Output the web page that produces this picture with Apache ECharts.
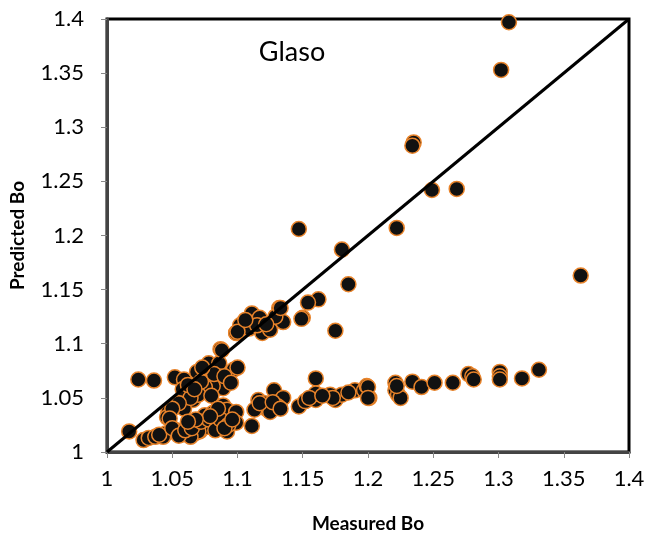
<!DOCTYPE html>
<html>
<head>
<meta charset="utf-8">
<script src="https://cdn.jsdelivr.net/npm/echarts@6/dist/echarts.min.js"></script>
<style>
html, body { margin: 0; padding: 0; background: #fff; }
#chart { width: 650px; height: 542px; }
</style>
</head>
<body>
<div id="chart"></div>
<script>
// measured vs predicted Bo
var measured = [
  1.308, 1.302, 1.235, 1.234, 1.249, 1.268, 1.363, 1.222, 1.147, 1.180,
  1.185, 1.162, 1.154, 1.150, 1.175, 1.149,
  1.017, 1.024, 1.036, 1.052, 1.059, 1.058, 1.069, 1.078, 1.087, 1.086,
  1.097, 1.100, 1.085, 1.078, 1.071, 1.066, 1.059, 1.047, 1.046, 1.089,
  1.081, 1.075, 1.070, 1.064, 1.099, 1.102, 1.111, 1.117, 1.119, 1.125,
  1.132, 1.135, 1.129, 1.109, 1.099, 1.088, 1.133, 1.100,
  1.062, 1.072, 1.082, 1.090, 1.095, 1.067, 1.080, 1.055, 1.050, 1.073,
  1.115, 1.106, 1.122,
  1.028, 1.032, 1.037, 1.045, 1.052, 1.057, 1.062, 1.067, 1.071, 1.075,
  1.081, 1.089, 1.092, 1.099, 1.099, 1.092, 1.084, 1.080, 1.076, 1.070,
  1.064, 1.048, 1.053, 1.043, 1.111, 1.116, 1.121, 1.128, 1.135, 1.131,
  1.123, 1.113, 1.125, 1.160, 1.147, 1.152, 1.160, 1.160, 1.171, 1.175,
  1.180, 1.190, 1.197, 1.199, 1.201, 1.173,
  1.040, 1.050, 1.055, 1.060, 1.065, 1.072, 1.078, 1.083, 1.087, 1.093,
  1.085, 1.079, 1.068, 1.062, 1.090, 1.096,
  1.117, 1.127, 1.133, 1.155, 1.165, 1.185,
  1.200, 1.200, 1.221, 1.221, 1.223, 1.225, 1.234, 1.241, 1.251, 1.265,
  1.277, 1.280, 1.281, 1.301, 1.301, 1.301, 1.318, 1.331, 1.222
];
var predicted = [
  1.397, 1.353, 1.286, 1.283, 1.242, 1.243, 1.163, 1.207, 1.206, 1.187,
  1.155, 1.141, 1.138, 1.124, 1.112, 1.123,
  1.019, 1.067, 1.066, 1.069, 1.067, 1.058, 1.074, 1.082, 1.095, 1.082,
  1.076, 1.078, 1.070, 1.061, 1.054, 1.048, 1.040, 1.037, 1.032, 1.059,
  1.061, 1.060, 1.053, 1.050, 1.110, 1.117, 1.128, 1.124, 1.110, 1.113,
  1.133, 1.120, 1.125, 1.114, 1.110, 1.094, 1.133, 1.111,
  1.062, 1.065, 1.072, 1.070, 1.064, 1.058, 1.052, 1.045, 1.040, 1.078,
  1.117, 1.122, 1.118,
  1.011, 1.013, 1.014, 1.017, 1.019, 1.016, 1.025, 1.017, 1.019, 1.034,
  1.036, 1.043, 1.039, 1.037, 1.027, 1.019, 1.023, 1.025, 1.023, 1.019,
  1.014, 1.031, 1.020, 1.014, 1.024, 1.048, 1.045, 1.057, 1.050, 1.042,
  1.039, 1.039, 1.037, 1.068, 1.042, 1.047, 1.048, 1.054, 1.053, 1.048,
  1.053, 1.057, 1.057, 1.061, 1.050, 1.050,
  1.016, 1.022, 1.015, 1.020, 1.022, 1.028, 1.030, 1.020, 1.030, 1.025,
  1.040, 1.033, 1.030, 1.028, 1.022, 1.030,
  1.045, 1.046, 1.040, 1.050, 1.052, 1.055,
  1.060, 1.050, 1.064, 1.057, 1.053, 1.050, 1.065, 1.060, 1.064, 1.064,
  1.072, 1.070, 1.067, 1.074, 1.070, 1.067, 1.068, 1.076, 1.061
];
var unitLine = [1, 1.4];

var points = [];
for (var i = 0; i < measured.length; i++) {
  points.push([measured[i], predicted[i]]);
}

var font = 'Lato';
var chart = echarts.init(document.getElementById('chart'));
chart.setOption({
  animation: false,
  grid: {
    left: 103, right: 21, top: 19, bottom: 90,
    show: true, borderColor: '#000', borderWidth: 3
  },
  title: {
    text: 'Glaso', left: 287, top: 34, textAlign: 'center',
    textStyle: { fontFamily: font, fontSize: 27, fontWeight: 'normal', color: '#000' }
  },
  xAxis: {
    type: 'value', min: 1, max: 1.4, interval: 0.05,
    name: 'Measured Bo', nameLocation: 'middle', nameGap: 62,
    nameTextStyle: { fontFamily: font, fontSize: 19, fontWeight: 'bold', color: '#000' },
    axisLine: { lineStyle: { color: '#444', width: 3 } },
    axisTick: { show: true, length: 6, lineStyle: { color: '#888' } },
    splitLine: { show: false },
    axisLabel: { margin: 16, fontFamily: font, fontSize: 22, color: '#000',
      formatter: function (v) { return +v.toFixed(2) + ''; } }
  },
  yAxis: {
    type: 'value', min: 1, max: 1.4, interval: 0.05,
    name: 'Predicted Bo', nameLocation: 'middle', nameGap: 80,
    nameTextStyle: { fontFamily: font, fontSize: 19, fontWeight: 'bold', color: '#000' },
    axisLine: { lineStyle: { color: '#444', width: 3 } },
    axisTick: { show: true, length: 6, lineStyle: { color: '#888' } },
    splitLine: { show: false },
    axisLabel: { margin: 23, fontFamily: font, fontSize: 22, color: '#000',
      formatter: function (v) { return +v.toFixed(2) + ''; } }
  },
  series: [
    {
      type: 'scatter',
      data: points,
      symbolSize: 15,
      clip: false,
      itemStyle: { color: '#111', borderColor: '#E8832A', borderWidth: 1.5, opacity: 1 },
      z: 2
    },
    {
      type: 'line',
      data: [[unitLine[0], unitLine[0]], [unitLine[1], unitLine[1]]],
      symbol: 'none',
      lineStyle: { color: '#000', width: 3 },
      z: 3
    }
  ]
});
</script>
</body>
</html>
